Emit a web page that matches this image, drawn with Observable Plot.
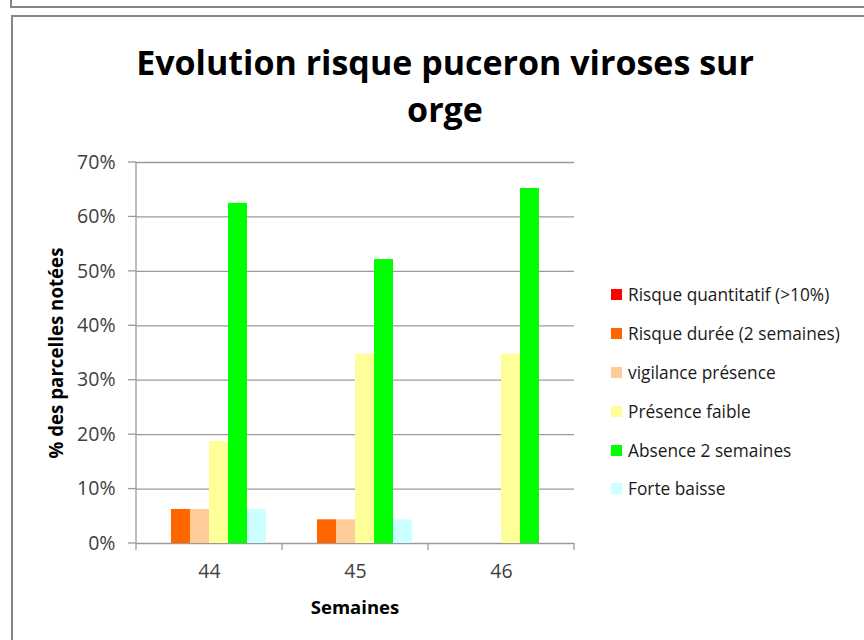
<!DOCTYPE html>
<html><head><meta charset="utf-8">
<script src="https://cdn.jsdelivr.net/npm/d3@7"></script>
<script src="https://cdn.jsdelivr.net/npm/@observablehq/plot@0.6"></script>
<style>
body{margin:0;background:#fff;font-family:"Open Sans",sans-serif;}
#wrap{position:relative;width:864px;height:640px;overflow:hidden;background:#fff;}
.ln{position:absolute;background:#868686;}
#title{position:absolute;left:0;width:890px;top:39px;text-align:center;font-weight:bold;font-size:34px;line-height:47px;color:#000;}
#ylab{position:absolute;left:55px;top:353px;transform:translate(-50%,-50%) rotate(-90deg);white-space:nowrap;font-weight:bold;font-size:18.7px;color:#000;}
#xlab{position:absolute;left:355px;top:606px;transform:translate(-50%,-50%);white-space:nowrap;font-weight:bold;font-size:18.5px;color:#000;}
#legend{position:absolute;left:611px;top:275px;}
.item{display:flex;align-items:center;height:38.9px;font-size:17.3px;color:#1a1a1a;white-space:nowrap;}
.sw{width:11px;height:11px;margin-right:6px;flex:none;}
#chart{position:absolute;left:0;top:0;}
</style></head>
<body><div id="wrap">
<div class="ln" style="left:10px;top:0;width:2px;height:8px"></div>
<div class="ln" style="left:10px;top:6px;width:860px;height:2px"></div>
<div class="ln" style="left:11px;top:15px;width:860px;height:2px"></div>
<div class="ln" style="left:11px;top:15px;width:2px;height:630px"></div>
<div id="chart"></div>
<div id="title">Evolution risque puceron viroses sur<br>orge</div>
<div id="ylab">% des parcelles notées</div>
<div id="xlab">Semaines</div>
<div id="legend"></div>
</div>
<script>
const weeks = ["44", "45", "46"];
const series = ["Risque quantitatif (>10%)", "Risque durée (2 semaines)", "vigilance présence", "Présence faible", "Absence 2 semaines", "Forte baisse"];
const colors = ["#FF0000", "#FF6600", "#FFCC99", "#FFFF99", "#00FF00", "#CCFFFF"];
const w44 = [0, 6.25, 6.25, 18.75, 62.5, 6.25];
const w45 = [0, 4.35, 4.35, 34.78, 52.17, 4.35];
const w46 = [0, 0, 0, 34.78, 65.22, 0];
const yTicks = [0, 10, 20, 30, 40, 50, 60, 70];
const yTickLabels = ["0%", "10%", "20%", "30%", "40%", "50%", "60%", "70%"];

const rows = [];
[w44, w45, w46].forEach((vals, i) => vals.forEach((v, j) => rows.push({week: weeks[i], series: series[j], value: v})));

const plot = Plot.plot({
  width: 864, height: 640,
  marginLeft: 136, marginRight: 290, marginTop: 162, marginBottom: 97,
  style: {fontFamily: "'Open Sans', sans-serif", fontSize: "19.5px", color: "#404040", background: "transparent", overflow: "visible"},
  fx: {domain: weeks, padding: 0, label: null, tickSize: 0, tickPadding: 21},
  x: {domain: series, paddingInner: 0, paddingOuter: 0.75, axis: null},
  y: {domain: [0, 70], ticks: yTicks.length - 1, tickFormat: d => yTickLabels[yTicks.indexOf(d)], tickSize: 0, tickPadding: 21, label: null},
  color: {domain: series, range: colors},
  marks: [
    Plot.ruleY(yTicks, {stroke: "#9a9a9a", strokeWidth: 1.3}),
    Plot.barY(rows, {fx: "week", x: "series", y: "value", fill: "series"})
  ]
});
document.getElementById("chart").appendChild(plot);

// Excel-style axis line and boundary ticks, positioned via the plot's own scales
const svg = d3.select(plot.tagName.toLowerCase() === "svg" ? plot : plot.querySelector("svg"));
const fxs = plot.scale("fx"), ys = plot.scale("y");
const y0 = ys.apply(0);
const g = svg.append("g").attr("stroke", "#9a9a9a").attr("stroke-width", 1.3);
const left = fxs.apply(weeks[0]);
g.append("line").attr("x1", left).attr("x2", left).attr("y1", ys.apply(70)).attr("y2", y0 + 7);
weeks.forEach(w => {
  const xb = fxs.apply(w) + fxs.bandwidth;
  g.append("line").attr("x1", xb).attr("x2", xb).attr("y1", y0).attr("y2", y0 + 7);
});
yTicks.forEach(t => {
  g.append("line").attr("x1", left - 8).attr("x2", left).attr("y1", ys.apply(t)).attr("y2", ys.apply(t));
});

const leg = d3.select("#legend");
series.forEach((s, i) => {
  const it = leg.append("div").attr("class", "item");
  it.append("div").attr("class", "sw").style("background", colors[i]);
  it.append("span").text(s);
});
</script>
</body></html>
